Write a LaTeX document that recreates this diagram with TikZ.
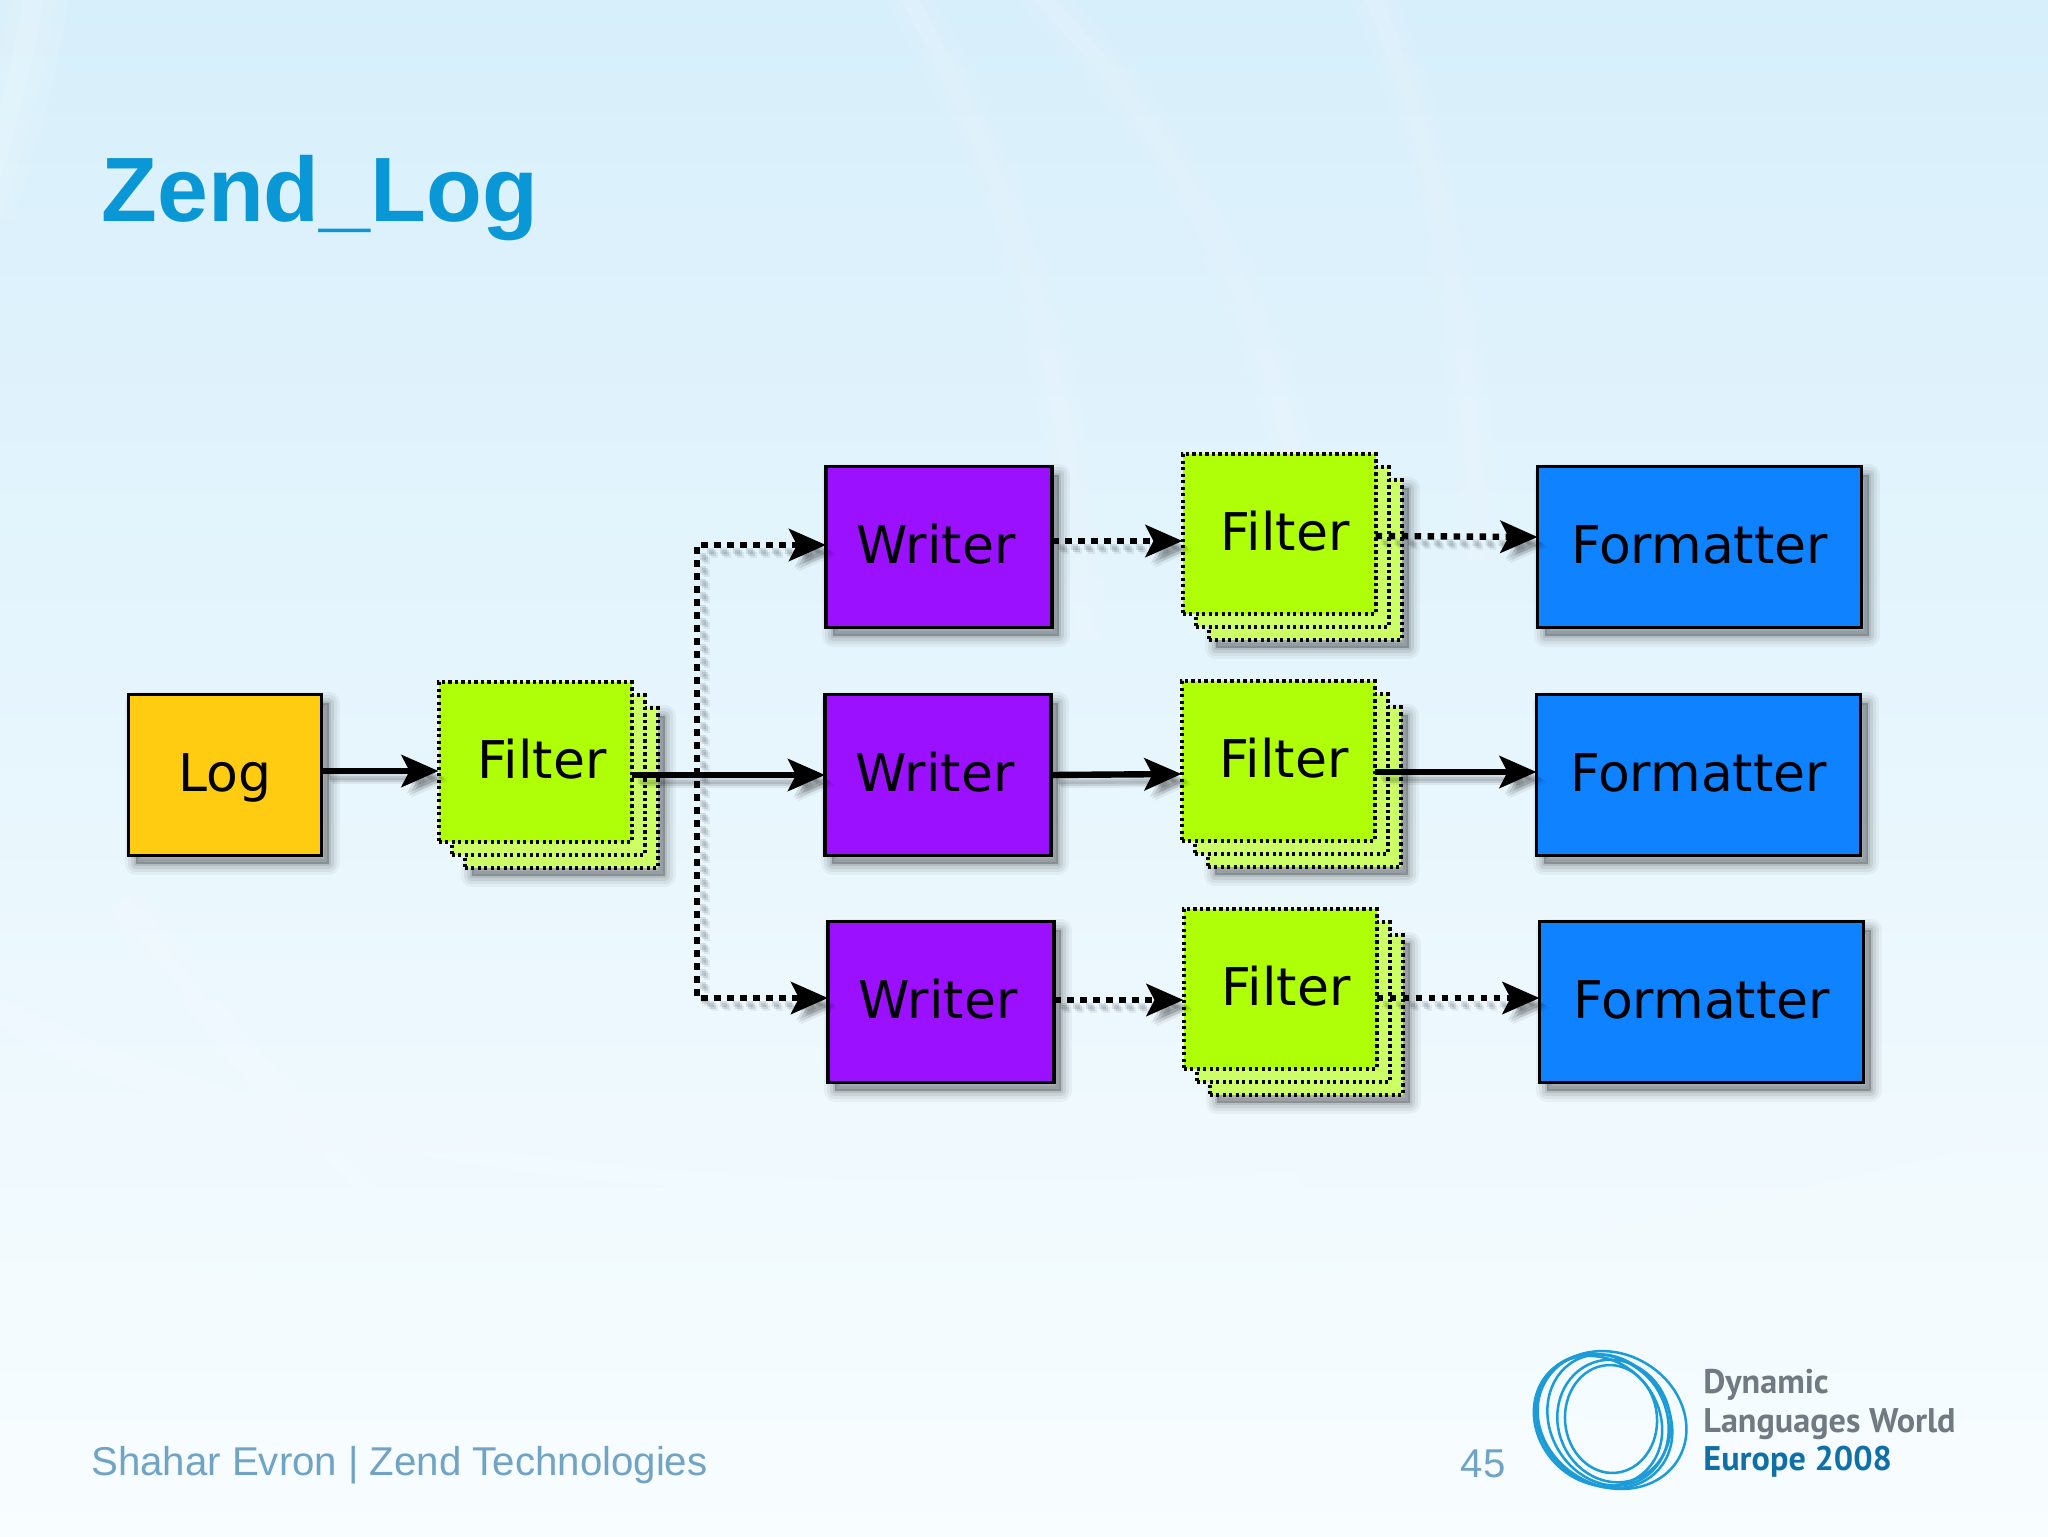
\documentclass[tikz,border=0pt]{standalone}
\usepackage{fontspec}
\setmainfont{Liberation Sans}
\newfontfamily\vera{DejaVu Sans}
\newfontfamily\logofont{PT Sans}
\usetikzlibrary{arrows.meta,calc}
\definecolor{bgtop}{RGB}{215,239,251}
\definecolor{bgmid}{RGB}{224,243,253}
\definecolor{bgbot}{RGB}{248,253,255}
\definecolor{titleblue}{RGB}{10,151,214}
\definecolor{footblue}{RGB}{112,163,196}
\definecolor{logoblue}{RGB}{27,155,215}
\definecolor{logodark}{RGB}{16,112,166}
\definecolor{logogray}{RGB}{112,122,130}
\definecolor{logyellow}{RGB}{255,204,17}
\definecolor{filtfront}{RGB}{174,255,8}
\definecolor{filtback}{RGB}{204,255,102}
\definecolor{writerpurple}{RGB}{155,17,255}
\definecolor{fmtblue}{RGB}{15,130,255}
\tikzset{
  softshadow/.style={
    preaction={draw=black,fill=black,solid,line width=11pt,draw opacity=.04,fill opacity=.04,line join=round,transform canvas={shift={(3.5pt,-4pt)}}},
    preaction={draw=black,fill=black,solid,line width=8pt,draw opacity=.05,fill opacity=.05,line join=round,transform canvas={shift={(3.5pt,-4pt)}}},
    preaction={draw=black,fill=black,solid,line width=5pt,draw opacity=.07,fill opacity=.07,line join=round,transform canvas={shift={(3.5pt,-4pt)}}},
    preaction={draw=black,fill=black,solid,line width=2pt,draw opacity=.09,fill opacity=.09,line join=round,transform canvas={shift={(3.5pt,-4pt)}}}
  },
  boxbase/.style={rectangle,draw=black,outer sep=0pt,inner sep=0pt,line width=1.75pt,
    font=\vera\fontsize{26}{26}\selectfont,text=black,text height=16.2pt,text depth=0pt},
  logbox/.style={boxbase,softshadow,fill=logyellow,minimum width=96.5pt,minimum height=80.5pt},
  writerbox/.style={boxbase,softshadow,fill=writerpurple,minimum width=113pt,minimum height=80.5pt},
  fmtbox/.style={boxbase,softshadow,fill=fmtblue,minimum width=162pt,minimum height=80.5pt},
  filterdash/.style={line width=2pt,dash pattern=on 1.6pt off 1.65pt},
  filterfront/.style={boxbase,filterdash,fill=filtfront,minimum width=96.5pt,minimum height=80pt},
  filterback/.style={boxbase,filterdash,fill=filtback,minimum width=96.5pt,minimum height=80pt},
  filterlast/.style={filterback,softshadow},
  tipped/.style={-{Stealth[length=18.5pt,width=16pt,inset=4pt]}},
  bothtipped/.style={{Stealth[length=18.5pt,width=16pt,inset=4pt]}-{Stealth[length=18.5pt,width=16pt,inset=4pt]}},
  flow/.style={line width=3.2pt,draw=black},
  dotted flow/.style={flow,dash pattern=on 3.25pt off 3.25pt},
  swoosh/.style={draw=white,line cap=butt},
  logoring/.style={draw=logoblue,line width=1.25pt},
  title/.style={text=titleblue,font=\fontsize{45.7}{45.7}\selectfont\bfseries,anchor=base west,inner sep=0pt},
  foot/.style={text=footblue,font=\fontsize{20.1}{20.1}\selectfont,anchor=base west,inner sep=0pt},
  logotext/.style={font=\logofont\bfseries\fontsize{17.1}{17.1}\selectfont,anchor=base west,inner sep=0pt},
}
\newcommand{\shadowed}[2]{%
  \foreach \sx/\op in {5/.06,4/.10,3/.10}{%
    \draw[#1,draw opacity=\op,fill opacity=\op,transform canvas={shift={(\sx pt,-\sx pt)}}] #2;}%
  \draw[#1] #2;}
\begin{document}
\begin{tikzpicture}[x=.5pt,y=-.5pt]
\useasboundingbox (0,0) rectangle (2048,1536);
\shade[top color=bgtop,middle color=bgmid,bottom color=bgbot] (0,0) rectangle (2048,1536);
% background swooshes
\begin{scope}
\clip (0,0) rectangle (2048,1536);
\foreach \w/\o in {44/.05,30/.06,16/.07}{
  \draw[swoosh,line width=\w*.5pt,opacity=\o] (905,-10) .. controls (1010,180) and (1070,350) .. (1085,640);
  \draw[swoosh,line width=\w*.5pt,opacity=\o] (1035,-10) .. controls (1170,130) and (1280,300) .. (1310,560);
  \draw[swoosh,line width=\w*.5pt,opacity=\o] (1370,-10) .. controls (1430,130) and (1470,300) .. (1478,560);
  \draw[swoosh,line width=\w*.5pt,opacity=\o] (-20,1000) .. controls (200,1130) and (600,1220) .. (1300,1180);
  \draw[swoosh,line width=\w*.5pt,opacity=\o] (120,900) .. controls (260,1080) and (320,1150) .. (480,1300);
}
\foreach \w/\o in {70/.08,45/.09,20/.10}{
  \draw[swoosh,line width=\w*.5pt,opacity=\o] (35,-10) .. controls (25,50) and (10,120) .. (-20,210);
}
\fill[white,opacity=.08] (0,1536) -- (0,1230) .. controls (600,1370) and (1300,1320) .. (2048,1130) -- (2048,1536) -- cycle;
\end{scope}

\node[title] (ttl) at (101,221) {Zend\_Log};

% nodes
\node[logbox] (log) at (225,775) {Log};

\node[filterlast] (fa3) at (561,788) {};
\node[filterback] (fa2) at (548,775) {};
\node[filterfront] (fa1) at (535,762) {\hspace*{7pt}Filter};

\node[writerbox] (w1) at (939,547) {\hspace*{-3pt}Writer};
\node[writerbox] (w2) at (938,775) {\hspace*{-3pt}Writer};
\node[writerbox] (w3) at (941,1002) {\hspace*{-3pt}Writer};

\node[filterlast] (fb3) at (1305,560) {};
\node[filterback] (fb2) at (1292,547) {};
\node[filterfront] (fb1) at (1279,534) {\hspace*{6pt}Filter};

\node[filterlast] (fc3) at (1304,787) {};
\node[filterback] (fc2) at (1291,774) {};
\node[filterfront] (fc1) at (1278,761) {\hspace*{6pt}Filter};

\node[filterlast] (fd3) at (1306,1015) {};
\node[filterback] (fd2) at (1293,1002) {};
\node[filterfront] (fd1) at (1280,989) {\hspace*{6pt}Filter};

\node[fmtbox] (m1) at (1699.5,547) {Formatter};
\node[fmtbox] (m2) at (1698.5,775) {Formatter};
\node[fmtbox] (m3) at (1701.5,1002) {Formatter};

\coordinate (t1) at (697,545);
\coordinate (t3) at (697,998);

% connectors
\shadowed{flow,tipped}{([yshift=2pt]log.east) -- ([yshift=-4.5pt]fa1.west)}
\shadowed{dotted flow,bothtipped}{([yshift=1pt]w1.west) -- (t1) -- (t3) -- ([yshift=2pt]w3.west)}
\shadowed{flow,tipped}{(fa1.east |- w2.west) -- (w2.west)}
\shadowed{dotted flow,tipped}{([yshift=3pt]w1.east) -- ([yshift=-3.5pt]fb1.west)}
\shadowed{dotted flow,tipped}{([yshift=-1pt]fb1.east) -- ([yshift=5pt]m1.west)}
\shadowed{flow,tipped}{(w2.east) -- ([yshift=-6.5pt]fc1.west)}
\shadowed{flow,tipped}{([yshift=-5.5pt]fc1.east) -- ([yshift=1.5pt]m2.west)}
\shadowed{dotted flow,tipped}{([yshift=1pt]w3.east) -- ([yshift=-5.5pt]fd1.west)}
\shadowed{dotted flow,tipped}{([yshift=-4.5pt]fd1.east) -- ([yshift=2pt]m3.west)}

% footer
\node[foot] (ft) at (91,1475) {Shahar Evron | Zend Technologies};
\node[foot,anchor=base east] (pg) at (1506,1477) {45};

% logo
\draw[logoring,rotate around={-30:(1612,1420)}] (1612,1420) ellipse [x radius=77,y radius=66];
\draw[logoring,rotate around={-42:(1604,1421)}] (1604,1421) ellipse [x radius=73,y radius=62];
\draw[logoring,rotate around={-48:(1598,1421)}] (1598,1421) ellipse [x radius=69,y radius=60];
\draw[logoring,rotate around={-60:(1608,1420)}] (1608,1420) ellipse [x radius=68,y radius=58];
\draw[logoring,rotate around={-70:(1614,1421)}] (1614,1421) ellipse [x radius=62,y radius=56];
\draw[logoring,rotate around={-85:(1611,1419)}] (1611,1419) ellipse [x radius=54,y radius=46];
\node[logotext,text=logogray] (l1) at (1703,1393) {Dynamic};
\node[logotext,text=logogray] (l2) at (1703,1432) {Languages World};
\node[logotext,text=logodark] (l3) at (1703,1470) {Europe 2008};
\end{tikzpicture}
\end{document}
